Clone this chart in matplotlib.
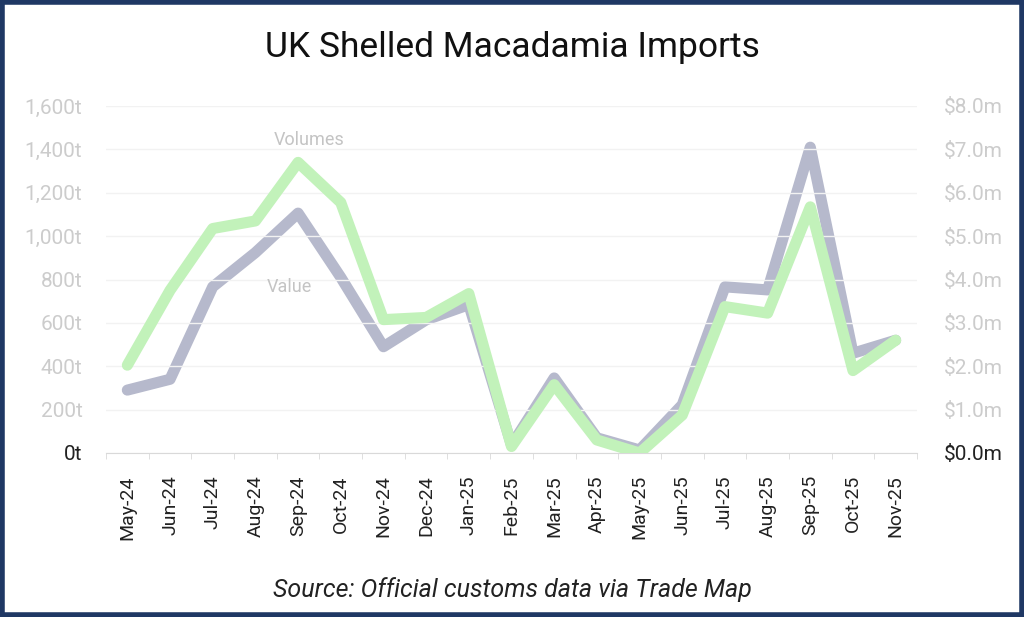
import matplotlib
matplotlib.use("Agg")
import matplotlib.pyplot as plt
from matplotlib.patches import Rectangle
from matplotlib.ticker import FixedLocator

plt.rcParams['font.family'] = ['Roboto', 'DejaVu Sans']

months = ["May-24", "Jun-24", "Jul-24", "Aug-24", "Sep-24", "Oct-24", "Nov-24",
          "Dec-24", "Jan-25", "Feb-25", "Mar-25", "Apr-25", "May-25", "Jun-25",
          "Jul-25", "Aug-25", "Sep-25", "Oct-25", "Nov-25"]

# tonnes (left axis)
volumes = [405, 750, 1035, 1070, 1340, 1155, 615, 625, 735, 30, 315, 60, 0,
           175, 675, 645, 1135, 380, 520]
# $m (right axis)
values = [1.45, 1.70, 3.83, 4.62, 5.53, 4.05, 2.45, 3.07, 3.42, 0.18, 1.73,
          0.35, 0.07, 1.11, 3.83, 3.76, 7.05, 2.30, 2.60]

left_ticks = [0, 200, 400, 600, 800, 1000, 1200, 1400, 1600]
left_labels = ["0t", "200t", "400t", "600t", "800t", "1,000t", "1,200t", "1,400t", "1,600t"]
right_ticks = [0, 1, 2, 3, 4, 5, 6, 7, 8]
right_labels = ["$0.0m", "$1.0m", "$2.0m", "$3.0m", "$4.0m", "$5.0m", "$6.0m", "$7.0m", "$8.0m"]

fig = plt.figure(figsize=(10.24, 6.17), dpi=100)
ax = fig.add_axes([106 / 1024, 1 - 453 / 617, (917 - 106) / 1024, (453 - 106) / 617])
ax2 = ax.twinx()

x = list(range(len(months)))
ax.plot(x, volumes, color='#c2f2ba', lw=8, solid_joinstyle='round', solid_capstyle='round', zorder=3)
ax2.plot(x, values, color='#b6b9cc', lw=8, solid_joinstyle='round', solid_capstyle='round', zorder=2)
ax.set_zorder(ax2.get_zorder() + 1)
ax.patch.set_visible(False)

ax.set_xlim(-0.5, len(months) - 0.5)
ax.set_ylim(0, 1600)
ax2.set_ylim(0, 8)

ax.set_yticks(left_ticks)
ax.set_yticklabels(left_labels)
ax2.set_yticks(right_ticks)
ax2.set_yticklabels(right_labels)
ax.tick_params(axis='y', length=0, labelsize=15, pad=17, colors='#222222')
ax2.tick_params(axis='y', length=0, labelsize=15, pad=19, colors='#222222')
for a in (ax, ax2):
    for s in a.spines.values():
        s.set_visible(False)
for lab in ax.get_yticklabels()[1:] + ax2.get_yticklabels()[1:]:
    lab.set_color('#cccccc')
ax.grid(axis='y', color='#f2f2f2', lw=1)

ax.set_xticks(x)
ax.set_xticklabels(months, rotation=90)
ax.xaxis.set_minor_locator(FixedLocator([i - 0.5 for i in range(len(months) + 1)]))
ax.tick_params(axis='x', which='major', length=0, labelsize=14, pad=16, colors='#222222')
ax.tick_params(axis='x', which='minor', length=4, color='#d9d9d9')
ax.spines['bottom'].set_visible(True)
ax.spines['bottom'].set_color('#d9d9d9')

ax.text(4.27, 1443, "Volumes", color='#c4c4c4', fontsize=13, ha='center', va='center')
ax.text(3.8, 765, "Value", color='#c4c4c4', fontsize=13, ha='center', va='center')

fig.text(0.5, 1 - 47 / 617, "UK Shelled Macadamia Imports", ha='center', va='center',
         fontsize=25.5, color='#111111')
fig.text(0.5, 1 - 590 / 617, "Source: Official customs data via Trade Map", ha='center',
         va='center', fontsize=18, style='italic', color='#222222')

fig.patches.append(Rectangle((0.002, 0.004), 0.996, 0.993, transform=fig.transFigure,
                             fill=False, edgecolor='#1f3864', lw=4))

fig.savefig("out.png", dpi=100)
